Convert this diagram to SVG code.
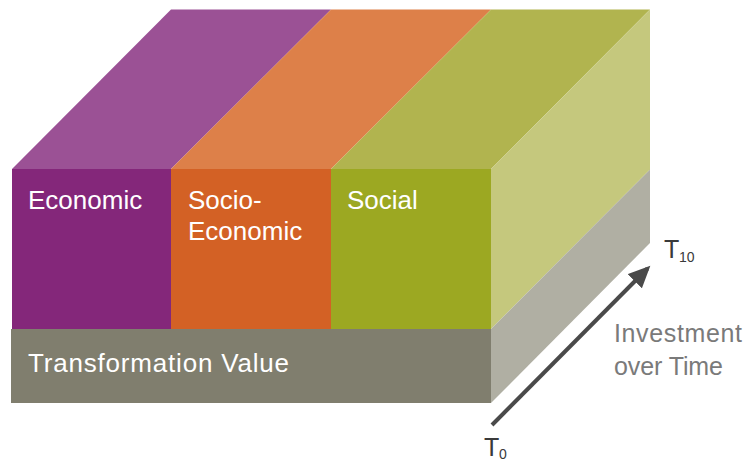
<svg xmlns="http://www.w3.org/2000/svg" width="746" height="462" viewBox="0 0 746 462">
  <defs>
    <style>
      .lbl { font-family: "Liberation Sans", "DejaVu Sans", sans-serif; font-size: 26px; fill: #ffffff; }
      .axis { font-family: "Liberation Sans", "DejaVu Sans", sans-serif; fill: #3a3a3a; }
      .note { font-family: "Liberation Sans", "DejaVu Sans", sans-serif; font-size: 25px; fill: #7a7a7a; }
    </style>
    <marker id="ah" markerWidth="6" markerHeight="5" refX="4.5" refY="2.5" orient="auto" markerUnits="strokeWidth">
      <path d="M0,0 L5.5,2.5 L0,5 Z" fill="#4a4a4a"/>
    </marker>
  </defs>
  <rect width="746" height="462" fill="#ffffff"/>

  <g id="economic">
    <polygon points="12,169 171,9.5 331,9.5 171,169" fill="#9B5195"/>
    <rect x="12" y="169" width="159" height="160" fill="#84277A"/>
    <text class="lbl" x="28" y="209">Economic</text>
  </g>

  <g id="socio-economic">
    <polygon points="171,169 331,9.5 491,9.5 331,169" fill="#DD8049"/>
    <rect x="171" y="169" width="160" height="160" fill="#D36125"/>
    <text class="lbl" x="188" y="209">Socio-</text>
    <text class="lbl" x="188" y="240">Economic</text>
  </g>

  <g id="social">
    <polygon points="331,169 491,9.5 650,9.5 491,169" fill="#B1B44F"/>
    <rect x="331" y="169" width="160" height="160" fill="#9CA822"/>
    <polygon points="491,169 650,9.5 650,169.5 491,329" fill="#C5C87D"/>
    <text class="lbl" x="347" y="209">Social</text>
  </g>

  <g id="transformation-value">
    <rect x="11" y="329" width="480" height="74" fill="#807E6E"/>
    <polygon points="491,329 650,169.5 650,243 491,403" fill="#B0AFA3"/>
    <text class="lbl" x="28" y="372" textLength="261" lengthAdjust="spacing">Transformation Value</text>
  </g>

  <g id="connectors">
    <line x1="492" y1="425" x2="647.5" y2="268.5" stroke="#4a4a4a" stroke-width="4" marker-end="url(#ah)"/>
  </g>

  <g id="labels">
    <text class="axis" x="664" y="258" font-size="25">T<tspan x="679" y="262" font-size="14">10</tspan></text>
    <text class="axis" x="484" y="456" font-size="25">T<tspan x="499" y="459" font-size="14">0</tspan></text>
    <text class="note" x="614" y="342" textLength="128" lengthAdjust="spacing">Investment</text>
    <text class="note" x="614" y="375" textLength="109" lengthAdjust="spacing">over Time</text>
  </g>
</svg>
